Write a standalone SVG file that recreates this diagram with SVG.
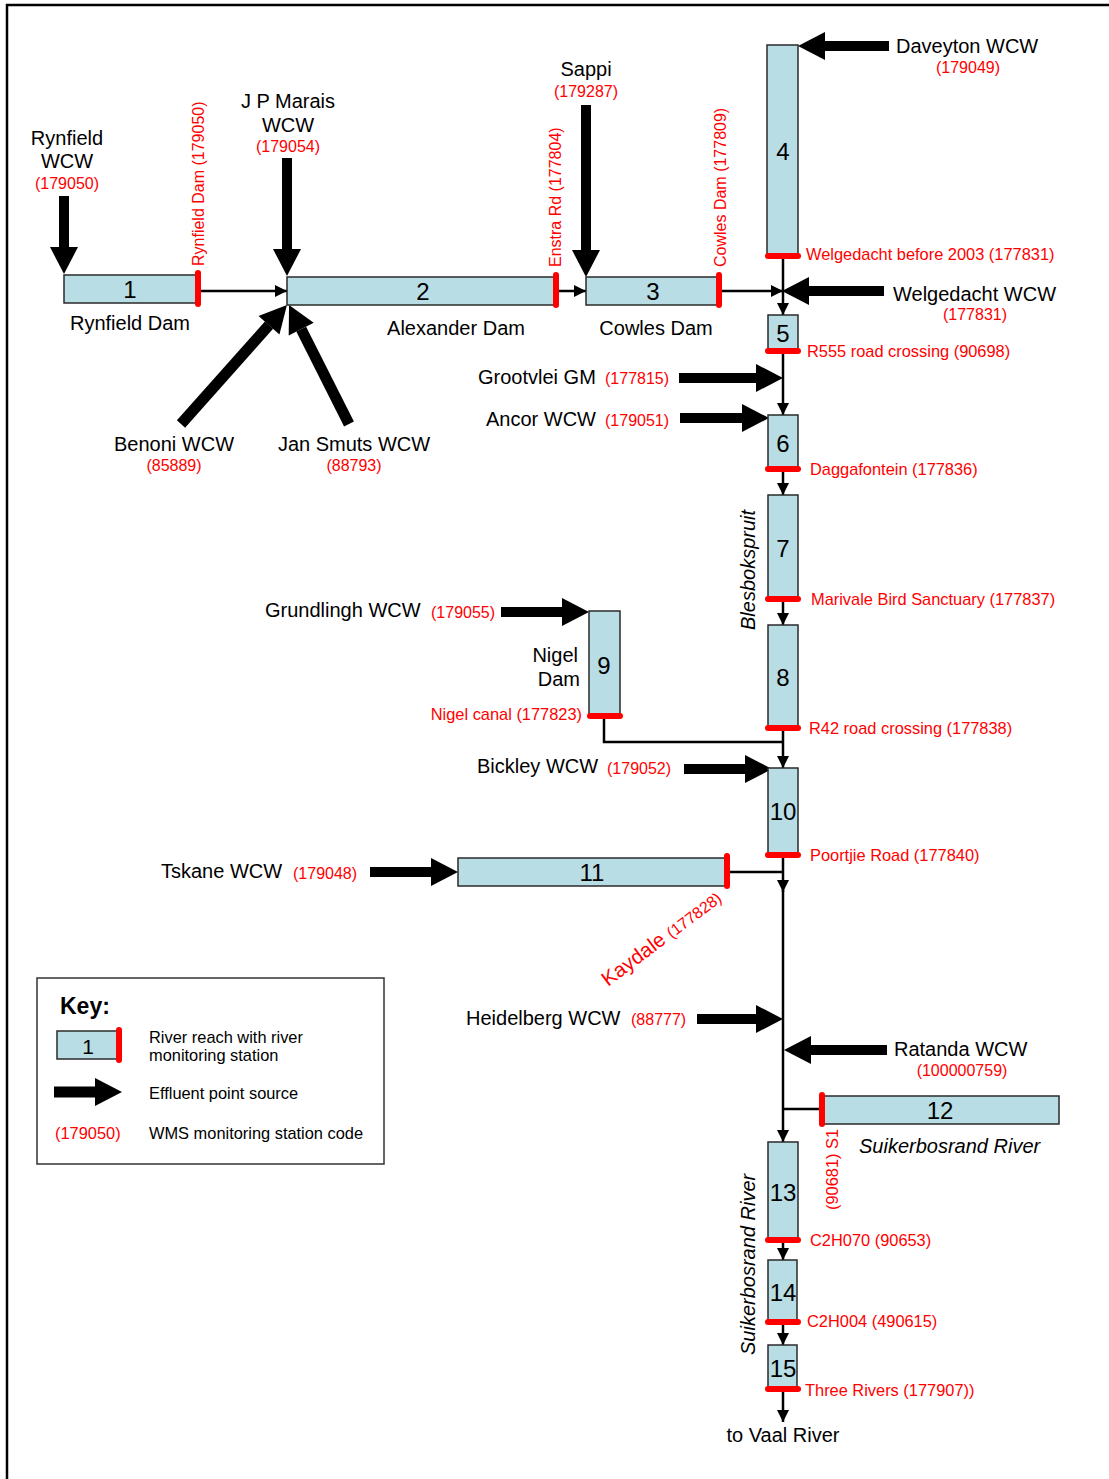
<svg xmlns="http://www.w3.org/2000/svg" width="1109" height="1479" viewBox="0 0 1109 1479">
<style>
text{font-family:"Liberation Sans",Arial,sans-serif;fill:#000}
.lbl{font-size:20px}
.code{font-size:16px;fill:#f00}
.stn{font-size:16.4px;fill:#f00}
.num{font-size:24px;text-anchor:middle}
.mid{text-anchor:middle}
.end{text-anchor:end}
.it{font-style:italic}
.box{fill:#b9dde4;stroke:#2a2a2a;stroke-width:1.5}
.st{stroke:#f00;stroke-width:6;stroke-linecap:round}
.conn{stroke:#000;stroke-width:2.5;fill:none}
.fat{stroke:#000;stroke-width:10;marker-end:url(#fh)}
.thin{stroke:#000;stroke-width:2.5;marker-end:url(#th)}
.key{font-size:16.4px}
</style>
<defs>
<marker id="fh" markerUnits="userSpaceOnUse" markerWidth="30" markerHeight="30" refX="0" refY="15" orient="auto" overflow="visible">
<path d="M0,1 L27,15 L0,29 Z" fill="#000"/>
</marker>
<marker id="th" markerUnits="userSpaceOnUse" markerWidth="14" markerHeight="14" refX="12" refY="6" orient="auto" overflow="visible">
<path d="M0,0 L12,6 L0,12 Z" fill="#000"/>
</marker>
</defs>
<rect width="1109" height="1479" fill="#fff"/>
<g id="frame">
<line x1="6" y1="5" x2="1109" y2="5" stroke="#000" stroke-width="2.5"/>
<line x1="7" y1="4" x2="7" y2="1479" stroke="#000" stroke-width="2.5"/>
</g>

<g id="connectors">
<line class="thin" x1="201" y1="291" x2="287" y2="291"/>
<line class="thin" x1="559" y1="291" x2="586" y2="291"/>
<line class="thin" x1="722" y1="291" x2="783" y2="291"/>
<line class="thin" x1="783" y1="258" x2="783" y2="315"/>
<line class="thin" x1="783" y1="353" x2="783" y2="415"/>
<line class="thin" x1="783" y1="471" x2="783" y2="495"/>
<line class="thin" x1="783" y1="601" x2="783" y2="625"/>
<polyline class="conn" points="604,718 604,742 783,742"/>
<line class="thin" x1="783" y1="730" x2="783" y2="768"/>
<line class="conn" x1="729" y1="872" x2="783" y2="872"/>
<line class="thin" x1="783" y1="857" x2="783" y2="892"/>
<line class="thin" x1="783" y1="890" x2="783" y2="1142"/>
<line class="conn" x1="823" y1="1109" x2="783" y2="1109"/>
<line class="thin" x1="783" y1="1242" x2="783" y2="1260"/>
<line class="thin" x1="783" y1="1324" x2="783" y2="1345"/>
<line class="thin" x1="783" y1="1391" x2="783" y2="1422"/>
</g>

<g id="sources">
<g id="src-rynfield">
<line class="fat" x1="64" y1="196" x2="64" y2="247"/>
<text class="lbl mid" x="67" y="145">Rynfield</text>
<text class="lbl mid" x="67" y="168">WCW</text>
<text class="code mid" x="67" y="189">(179050)</text>
</g>
<g id="src-jpmarais">
<line class="fat" x1="287" y1="158" x2="287" y2="249"/>
<text class="lbl mid" x="288" y="108">J P Marais</text>
<text class="lbl mid" x="288" y="132">WCW</text>
<text class="code mid" x="288" y="152">(179054)</text>
</g>
<g id="src-benoni">
<line class="fat" style="stroke-width:11" x1="181" y1="424" x2="269" y2="325.2"/>
<text class="lbl mid" x="174" y="451">Benoni WCW</text>
<text class="code mid" x="174" y="471">(85889)</text>
</g>
<g id="src-jansmuts">
<line class="fat" style="stroke-width:11" x1="349" y1="424" x2="301.2" y2="329.1"/>
<text class="lbl mid" x="354" y="451">Jan Smuts WCW</text>
<text class="code mid" x="354" y="471">(88793)</text>
</g>
<g id="src-sappi">
<line class="fat" x1="586" y1="105" x2="586" y2="250"/>
<text class="lbl mid" x="586" y="76">Sappi</text>
<text class="code mid" x="586" y="97">(179287)</text>
</g>
<g id="src-daveyton">
<line class="fat" x1="889" y1="46" x2="825" y2="46"/>
<text class="lbl" x="896" y="53">Daveyton WCW</text>
<text class="code mid" x="968" y="73">(179049)</text>
</g>
<g id="src-welgedacht">
<line class="fat" x1="884" y1="291" x2="809" y2="291"/>
<text class="lbl" x="893" y="301">Welgedacht WCW</text>
<text class="code mid" x="975" y="320">(177831)</text>
</g>
<g id="src-grootvlei">
<line class="fat" x1="679" y1="378" x2="756" y2="378"/>
<text class="lbl" x="478" y="384">Grootvlei GM</text>
<text class="code" x="605" y="384">(177815)</text>
</g>
<g id="src-ancor">
<line class="fat" x1="680" y1="418" x2="742" y2="418"/>
<text class="lbl" x="486" y="426">Ancor WCW</text>
<text class="code" x="605" y="426">(179051)</text>
</g>
<g id="src-grundlingh">
<line class="fat" x1="501" y1="612" x2="562" y2="612"/>
<text class="lbl" x="265" y="617">Grundlingh WCW</text>
<text class="code" x="431" y="618">(179055)</text>
</g>
<g id="src-bickley">
<line class="fat" x1="684" y1="769" x2="745" y2="769"/>
<text class="lbl" x="477" y="773">Bickley WCW</text>
<text class="code" x="607" y="774">(179052)</text>
</g>
<g id="src-tskane">
<line class="fat" x1="370" y1="872" x2="431" y2="872"/>
<text class="lbl" x="161" y="878">Tskane WCW</text>
<text class="code" x="293" y="879">(179048)</text>
</g>
<g id="src-heidelberg">
<line class="fat" x1="697" y1="1019" x2="756" y2="1019"/>
<text class="lbl" x="466" y="1025">Heidelberg WCW</text>
<text class="code" x="631" y="1025">(88777)</text>
</g>
<g id="src-ratanda">
<line class="fat" x1="887" y1="1050" x2="811" y2="1050"/>
<text class="lbl" x="894" y="1056">Ratanda WCW</text>
<text class="code mid" x="962" y="1076">(100000759)</text>
</g>
</g>

<g id="reach1">
<rect class="box" x="64" y="275" width="134" height="28"/>
<line class="st" x1="198" y1="273" x2="198" y2="304"/>
<text class="num" x="130" y="298">1</text>
<text class="lbl mid" x="130" y="330">Rynfield Dam</text>
<text class="code" transform="translate(204,266) rotate(-90)">Rynfield Dam (179050)</text>
</g>
<g id="reach2">
<rect class="box" x="287" y="277" width="269" height="28"/>
<line class="st" x1="556" y1="275" x2="556" y2="305"/>
<text class="num" x="423" y="300">2</text>
<text class="lbl mid" x="456" y="335">Alexander Dam</text>
<text class="code" transform="translate(561,267) rotate(-90)">Enstra Rd (177804)</text>
</g>
<g id="reach3">
<rect class="box" x="586" y="277" width="133" height="28"/>
<line class="st" x1="719" y1="275" x2="719" y2="305"/>
<text class="num" x="653" y="300">3</text>
<text class="lbl mid" x="656" y="335">Cowles Dam</text>
<text class="code" transform="translate(726,267) rotate(-90)">Cowles Dam (177809)</text>
</g>
<g id="reach4">
<rect class="box" x="767" y="45" width="31" height="210"/>
<line class="st" x1="768" y1="256" x2="798" y2="256"/>
<text class="num" x="783" y="160">4</text>
<text class="stn" x="806" y="260">Welgedacht before 2003 (177831)</text>
</g>
<g id="reach5">
<rect class="box" x="768" y="315" width="30" height="36"/>
<line class="st" x1="768" y1="351" x2="798" y2="351"/>
<text class="num" x="783" y="342">5</text>
<text class="stn" x="807" y="357">R555 road crossing (90698)</text>
</g>
<g id="reach6">
<rect class="box" x="768" y="415" width="30" height="54"/>
<line class="st" x1="768" y1="469" x2="798" y2="469"/>
<text class="num" x="783" y="452">6</text>
<text class="stn" x="810" y="475">Daggafontein (177836)</text>
</g>
<g id="reach7">
<rect class="box" x="768" y="495" width="30" height="104"/>
<line class="st" x1="768" y1="599" x2="798" y2="599"/>
<text class="num" x="783" y="557">7</text>
<text class="stn" x="811" y="605">Marivale Bird Sanctuary (177837)</text>
<text class="lbl it" transform="translate(755,630) rotate(-90)">Blesbokspruit</text>
</g>
<g id="reach8">
<rect class="box" x="768" y="625" width="30" height="103"/>
<line class="st" x1="768" y1="728" x2="798" y2="728"/>
<text class="num" x="783" y="686">8</text>
<text class="stn" x="809" y="734">R42 road crossing (177838)</text>
</g>
<g id="reach9">
<rect class="box" x="589" y="611" width="31" height="105"/>
<line class="st" x1="590" y1="716" x2="620" y2="716"/>
<text class="num" x="604" y="674">9</text>
<text class="lbl end" x="578" y="662">Nigel</text>
<text class="lbl end" x="580" y="686">Dam</text>
<text class="stn end" x="582" y="720">Nigel canal (177823)</text>
</g>
<g id="reach10">
<rect class="box" x="768" y="768" width="30" height="87"/>
<line class="st" x1="768" y1="855" x2="798" y2="855"/>
<text class="num" x="783" y="820">10</text>
<text class="stn" x="810" y="861">Poortjie Road (177840)</text>
</g>
<g id="reach11">
<rect class="box" x="458" y="858" width="269" height="28"/>
<line class="st" x1="727" y1="856" x2="727" y2="886"/>
<text class="num" x="592" y="881">11</text>
<g transform="translate(608,987) rotate(-37)">
<text style="fill:#f00;font-size:20.5px">Kaydale <tspan style="font-size:16px">(177828)</tspan></text>
</g>
</g>
<g id="reach12">
<rect class="box" x="823" y="1096" width="236" height="28"/>
<line class="st" x1="822" y1="1095" x2="822" y2="1124"/>
<text class="num" x="940" y="1119">12</text>
<text class="lbl it" x="859" y="1153">Suikerbosrand River</text>
<text class="stn" transform="translate(838,1210) rotate(-90)">(90681) S1</text>
</g>
<g id="reach13">
<rect class="box" x="768" y="1142" width="30" height="98"/>
<line class="st" x1="768" y1="1240" x2="798" y2="1240"/>
<text class="num" x="783" y="1201">13</text>
<text class="stn" x="810" y="1246">C2H070 (90653)</text>
<text class="lbl it" transform="translate(755,1355) rotate(-90)">Suikerbosrand River</text>
</g>
<g id="reach14">
<rect class="box" x="768" y="1260" width="29" height="62"/>
<line class="st" x1="768" y1="1322" x2="798" y2="1322"/>
<text class="num" x="783" y="1301">14</text>
<text class="stn" x="807" y="1327">C2H004 (490615)</text>
</g>
<g id="reach15">
<rect class="box" x="768" y="1345" width="29" height="44"/>
<line class="st" x1="768" y1="1389" x2="798" y2="1389"/>
<text class="num" x="783" y="1377">15</text>
<text class="stn" x="805" y="1396">Three Rivers (177907))</text>
</g>
<g id="outlet">
<text class="lbl mid" x="783" y="1442">to Vaal River</text>
</g>

<g id="key">
<rect x="37" y="978" width="347" height="186" fill="none" stroke="#333" stroke-width="1.5"/>
<text x="60" y="1014" style="font-size:23px;font-weight:bold">Key:</text>
<rect class="box" x="57" y="1031" width="61" height="28"/>
<line class="st" x1="119" y1="1030" x2="119" y2="1060"/>
<text x="88" y="1054" style="font-size:21px;text-anchor:middle">1</text>
<text class="key" x="149" y="1043">River reach with river</text>
<text class="key" x="149" y="1061">monitoring station</text>
<line class="fat" style="stroke-width:11" x1="54" y1="1092" x2="95" y2="1092"/>
<text class="key" x="149" y="1099">Effluent point source</text>
<text class="key" x="55" y="1139" style="fill:#f00">(179050)</text>
<text class="key" x="149" y="1139">WMS monitoring station code</text>
</g>
</svg>
